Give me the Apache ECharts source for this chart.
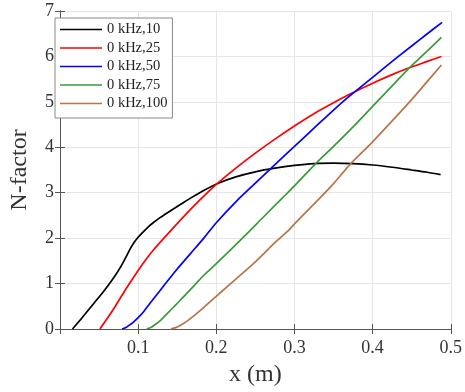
<!DOCTYPE html>
<html><head><meta charset="utf-8">
<script src="https://cdn.jsdelivr.net/npm/echarts/dist/echarts.min.js"></script>
<style>html,body{margin:0;padding:0;background:#fff}#c{width:465px;height:392px}</style>
</head><body><div id="c"></div>
<script>
// ---- data ----
const seriesNames = ['0 kHz,10', '0 kHz,25', '0 kHz,50', '0 kHz,75', '0 kHz,100'];
const xTickValues = [0, 0.1, 0.2, 0.3, 0.4, 0.5];
const yTickValues = [0, 1, 2, 3, 4, 5, 6, 7];

const blackX = [0.016,0.025,0.035,0.045,0.055,0.063,0.07,0.077,0.084,0.09,0.095,0.1,0.106,0.113,0.12,0.127,0.135,0.145,0.155,0.166,0.185,0.2026,0.225,0.25,0.275,0.3,0.325,0.35,0.375,0.4,0.425,0.45,0.47,0.487];
const blackN = [0,0.18,0.39,0.6,0.81,0.99,1.16,1.35,1.57,1.77,1.91,2.02,2.13,2.25,2.35,2.44,2.53,2.64,2.75,2.87,3.06,3.21,3.35,3.46,3.54,3.6,3.64,3.65,3.64,3.61,3.56,3.5,3.45,3.4];

const redX = [0.051,0.06,0.07,0.08,0.09,0.1,0.11,0.12,0.133,0.15,0.172,0.188,0.2026,0.225,0.25,0.275,0.3,0.325,0.35,0.37,0.4,0.425,0.447,0.47,0.488];
const redN = [0,0.22,0.48,0.76,1.03,1.29,1.53,1.75,2.0,2.32,2.72,2.99,3.22,3.54,3.87,4.18,4.47,4.74,4.98,5.16,5.41,5.6,5.75,5.89,6.0];

const blueX = [0.0795,0.085,0.09,0.095,0.1,0.107,0.114,0.125,0.135,0.15,0.165,0.174,0.184,0.2,0.225,0.25,0.269,0.3,0.325,0.35,0.37,0.4,0.425,0.45,0.47,0.489];
const blueN = [0,0.04,0.1,0.17,0.25,0.38,0.54,0.78,1.0,1.32,1.62,1.8,2.0,2.34,2.8,3.21,3.52,4.02,4.42,4.82,5.12,5.54,5.89,6.23,6.5,6.75];

const greenX = [0.111,0.117,0.122,0.128,0.135,0.143,0.152,0.162,0.174,0.185,0.2,0.237,0.26,0.285,0.3,0.326,0.35,0.375,0.4,0.425,0.447,0.47,0.488];
const greenN = [0,0.04,0.1,0.18,0.3,0.44,0.6,0.78,1.0,1.2,1.44,2.06,2.46,2.89,3.15,3.62,4.02,4.45,4.9,5.35,5.75,6.12,6.42];

const brownX = [0.142,0.148,0.155,0.163,0.172,0.183,0.194,0.2066,0.225,0.25,0.275,0.29,0.301,0.333,0.35,0.371,0.4,0.425,0.45,0.47,0.488];
const brownN = [0,0.03,0.09,0.18,0.3,0.46,0.63,0.82,1.1,1.48,1.9,2.13,2.33,2.89,3.2,3.62,4.12,4.58,5.05,5.45,5.81];

const lineColors = ['#000000', '#ff0000', '#0000ff', '#3a9a3a', '#b8744a'];
// --------------------------------------

const xsList = [blackX, redX, blueX, greenX, brownX];
const nsList = [blackN, redN, blueN, greenN, brownN];
const zip = (a, b) => a.map((v, i) => [v, b[i]]);

const FONT = 'Liberation Serif';
const axisCol = '#555555';

const chart = echarts.init(document.getElementById('c'), null, {renderer: 'canvas'});
const xMin = xTickValues[0], xMax = xTickValues[xTickValues.length - 1];
const yMin = yTickValues[0], yMax = yTickValues[yTickValues.length - 1];
const xInt = xTickValues[1] - xTickValues[0];
const yInt = yTickValues[1] - yTickValues[0];

const option = {
  animation: false,
  backgroundColor: '#ffffff',
  grid: {left: 47, top: 11, right: 11.5, bottom: 59, containLabel: false},
  legend: {
    show: true,
    data: seriesNames,
    orient: 'vertical',
    left: 55, top: 18,
    icon: 'path://M0,0H42V1.7H0Z',
    itemWidth: 42, itemHeight: 14, itemGap: 3.5,
    padding: [4, 5, 7, 5],
    backgroundColor: '#ffffff',
    borderColor: '#8a8a8a', borderWidth: 1,
    textStyle: {fontFamily: FONT, fontSize: 14.5, color: '#222', lineHeight: 14}
  },
  xAxis: [{
    type: 'value', min: xMin, max: xMax, interval: xInt, position: 'bottom',
    name: 'x (m)', nameLocation: 'middle', nameGap: 34,
    nameTextStyle: {fontFamily: FONT, fontSize: 24, color: '#333'},
    axisLine: {show: true, lineStyle: {color: axisCol, width: 1}},
    axisTick: {show: true, inside: true, length: 5, lineStyle: {color: axisCol}},
    axisLabel: {margin: 10, fontFamily: FONT, fontSize: 18, color: '#333',
      formatter: v => (v === 0 ? '' : String(Math.round(v * 10) / 10))},
    splitLine: {show: true, lineStyle: {color: '#e6e6e6', width: 1}}
  }, {
    type: 'value', min: xMin, max: xMax, interval: xInt, position: 'top',
    axisLine: {show: true, lineStyle: {color: axisCol, width: 1}},
    axisTick: {show: true, inside: true, length: 5, lineStyle: {color: axisCol}},
    axisLabel: {show: false}, splitLine: {show: false}
  }],
  yAxis: [{
    type: 'value', min: yMin, max: yMax, interval: yInt, position: 'left',
    name: 'N-factor', nameLocation: 'middle', nameGap: 28,
    nameTextStyle: {fontFamily: FONT, fontSize: 24, color: '#333'},
    axisLine: {show: true, lineStyle: {color: axisCol, width: 1}},
    axisTick: {show: true, inside: true, length: 5, lineStyle: {color: axisCol}},
    axisLabel: {margin: 6, fontFamily: FONT, fontSize: 18, color: '#333'},
    splitLine: {show: true, lineStyle: {color: '#e6e6e6', width: 1}}
  }, {
    type: 'value', min: yMin, max: yMax, interval: yInt, position: 'right',
    axisLine: {show: true, lineStyle: {color: axisCol, width: 1}},
    axisTick: {show: true, inside: true, length: 5, lineStyle: {color: axisCol}},
    axisLabel: {show: false}, splitLine: {show: false}
  }],
  series: seriesNames.map((name, i) => ({
    name: name, type: 'line', xAxisIndex: 0, yAxisIndex: 0,
    data: zip(xsList[i], nsList[i]),
    symbol: 'none', smooth: 0.3,
    lineStyle: {color: lineColors[i], width: 1.7},
    itemStyle: {color: lineColors[i]},
    z: 3
  }))
};
chart.setOption(option);
</script>
</body></html>
